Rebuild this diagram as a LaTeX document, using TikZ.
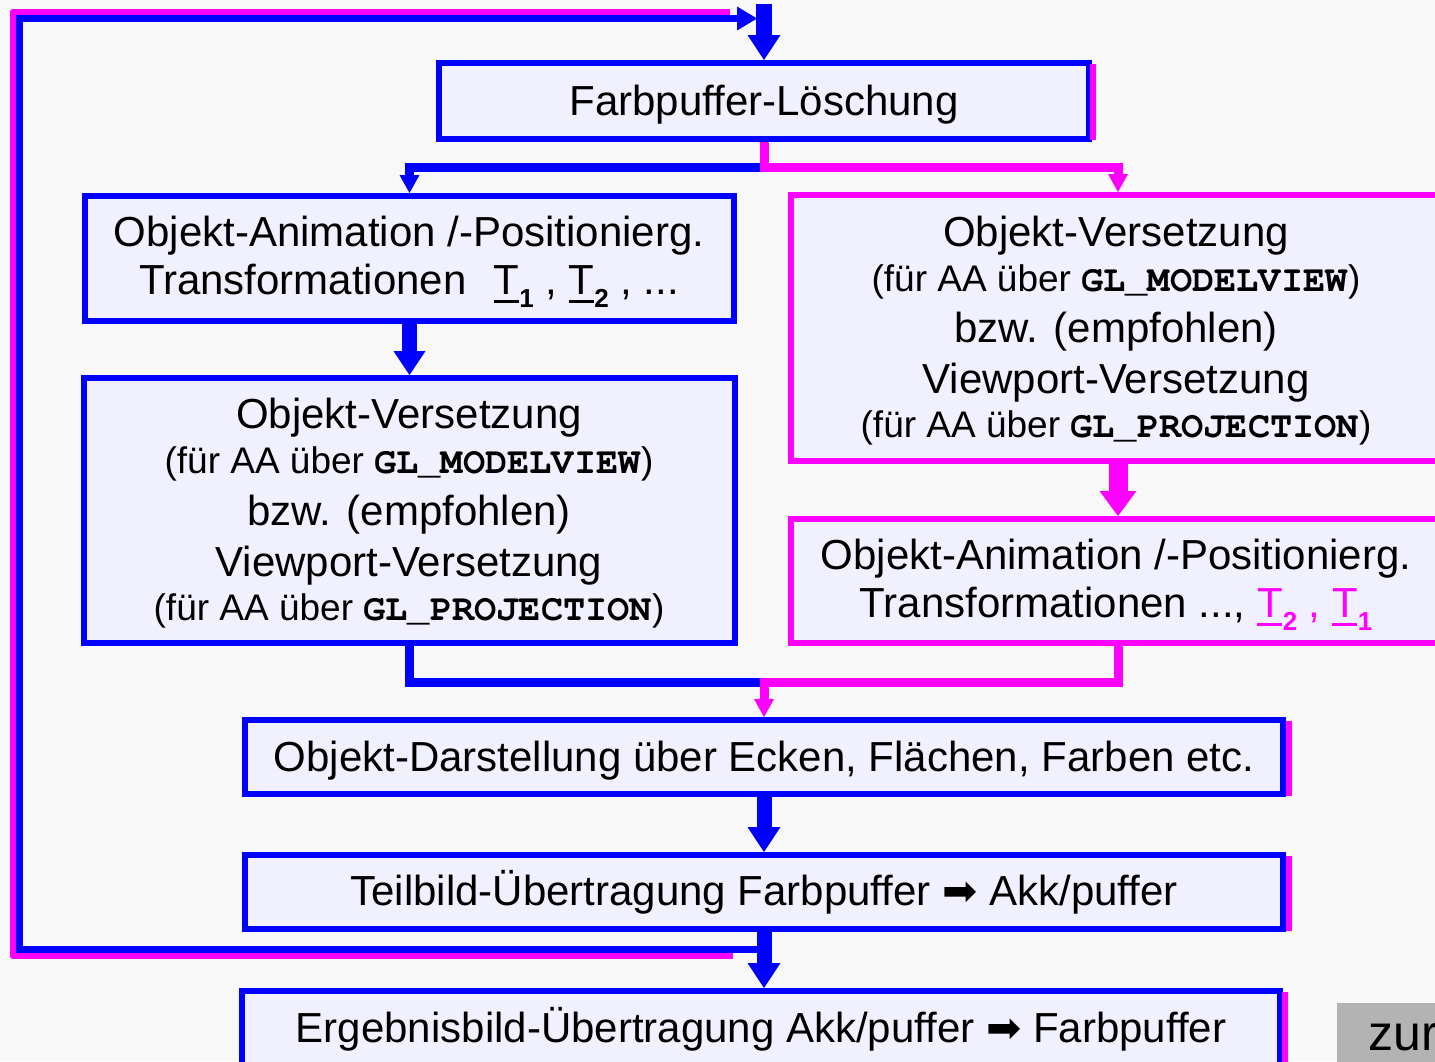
\documentclass[tikz,border=0pt]{standalone}
\usepackage{fontspec}
\setmainfont{Liberation Sans}
\setmonofont{TeX Gyre Cursor}
\newfontfamily\symfont{DejaVu Sans}
\usetikzlibrary{arrows.meta}
\definecolor{bl}{RGB}{0,0,255}
\definecolor{mg}{RGB}{255,0,255}
\definecolor{boxfill}{RGB}{240,240,255}
\definecolor{bgc}{RGB}{248,248,248}
\definecolor{btn}{RGB}{179,179,179}
\newcommand\Lg{\fontsize{42}{48}\selectfont}
\newcommand\Sm{\fontsize{37}{42}\selectfont}
\newcommand\GL[1]{\texttt{\bfseries #1}}
\newcommand\Tsub[1]{\makebox[0pt][l]{\rule[-9pt]{25pt}{3.5pt}}T\raisebox{-13pt}{\fontsize{26}{26}\selectfont\bfseries #1}}
\newcommand\Rarr{{\symfont ➡}}
\begin{document}
\begin{tikzpicture}[x=1pt,y=-1pt,
  box/.style={draw=bl, line width=6pt, fill=boxfill, inner sep=0pt},
  mbox/.style={draw=mg, line width=6pt, fill=boxfill, inner sep=0pt},
  big/.style={inner sep=0pt, anchor=base, font=\Lg},
  small/.style={inner sep=0pt, anchor=base, font=\Sm},
  stripe/.style={fill=mg},
  bigarr/.style={line width=15pt, -{Triangle[width=32pt,length=24pt,line width=0pt]}},
  smallarr/.style={line width=9pt, -{Triangle[width=20pt,length=18pt,line width=0pt]}},
  loopline/.style={line width=7pt}]
\useasboundingbox (0,0) rectangle (1435,1061);
\fill[bgc] (0,0) rectangle (1435,1061);
\clip (0,0) rectangle (1435,1061);

% boxes
\node[box, minimum width=650pt, minimum height=76pt] (fp) at (764,101) {};
\node[box, minimum width=649pt, minimum height=125pt] (la) at (409.5,258.5) {};
\node[box, minimum width=651pt, minimum height=265pt] (lv) at (409.5,510.5) {};
\node[mbox, minimum width=654pt, minimum height=266pt] (rv) at (1118,328) {};
\node[mbox, minimum width=654pt, minimum height=124pt] (ra) at (1118,581) {};
\node[box, minimum width=1038pt, minimum height=74pt] (od) at (764,757) {};
\node[box, minimum width=1038pt, minimum height=74pt] (tb) at (764,892) {};
\node[box, minimum width=1038pt, minimum height=130pt] (eb) at (761,1056) {};

% magenta shadow stripes
\fill[stripe] (1090,64) rectangle (1096,140);
\fill[stripe] (1286,721) rectangle (1292,796);
\fill[stripe] (1286,856) rectangle (1292,931);
\fill[stripe] (1282,992) rectangle (1288,1070);

% button
\fill[btn] (1337,1003) rectangle (1440,1070);
\node[inner sep=0pt, anchor=base west, font=\fontsize{50}{56}\selectfont] (zur) at (1368,1050) {zur};

% loop back
\coordinate (loopm) at (733,956);
\coordinate (loopmend) at (730,12);
\coordinate (loopb) at (764,949.5);
\coordinate (loopbend) at (757,18.5);
\coordinate (topin) at (764,4);
\draw[mg, line width=6pt, line join=round] (loopm) -- (12.5,956) -- (12.5,12) -- (loopmend);
\draw[bl, loopline, -{Triangle[width=24pt,length=20pt,line width=0pt]}] (loopb) -- (19.5,949.5) -- (19.5,18.5) -- (loopbend);

% main arrows
\draw[bl, bigarr, line width=16pt, -{Triangle[width=33pt,length=25pt,line width=0pt]}] (topin) -- (fp.north);
\draw[bl, bigarr] (la.south) -- (lv.north);
\draw[mg, bigarr, line width=19pt, -{Triangle[width=37pt,length=25pt,line width=0pt]}] (rv.south) -- (ra.north);
\draw[bl, bigarr, line width=15pt, -{Triangle[width=33pt,length=25pt,line width=0pt]}] (od.south) -- (tb.north);
\draw[bl, bigarr, line width=15pt, -{Triangle[width=33pt,length=25pt,line width=0pt]}] (tb.south) -- (tb.south |- eb.north);

% split
\coordinate (split) at (764,167.5);
\draw[bl, smallarr] (split) -| (la.north);
\draw[mg, smallarr] (fp.south) -- (split) -| (rv.north);

% merge
\coordinate (merge) at (764,682);
\draw[bl, line width=9pt] (lv.south) |- (merge);
\draw[mg, smallarr] (ra.south) |- (merge) -- (od.north);

% texts
\node[big] (fpt) at (764,115) {Farbpuffer-Löschung};

\node[big] (la1) at (409,246) {Objekt-Animation /-Positionierg.};
\node[big] (la2) at (409,294) {Transformationen\hspace{27pt}\Tsub{1} , \Tsub{2} , ...};

\node[big] (lv1) at (409,428) {Objekt-Versetzung};
\node[small] (lv2) at (409,473) {(für AA über \GL{GL\_MODELVIEW})};
\node[big] (lv3) at (409,525) {bzw. (empfohlen)};
\node[big] (lv4) at (409,576) {Viewport-Versetzung};
\node[small] (lv5) at (409,620) {(für AA über \GL{GL\_PROJECTION})};

\node[big] (rv1) at (1116,246) {Objekt-Versetzung};
\node[small] (rv2) at (1116,291) {(für AA über \GL{GL\_MODELVIEW})};
\node[big] (rv3) at (1116,342) {bzw. (empfohlen)};
\node[big] (rv4) at (1116,393) {Viewport-Versetzung};
\node[small] (rv5) at (1116,437) {(für AA über \GL{GL\_PROJECTION})};

\node[big] (ra1) at (1116,569) {Objekt-Animation /-Positionierg.};
\node[big] (ra2) at (1116,617) {Transformationen ..., \textcolor{mg}{\Tsub{2} , \Tsub{1}}};

\node[big] (odt) at (764,771) {Objekt-Darstellung über Ecken, Flächen, Farben etc.};
\node[big] (tbt) at (764,905) {Teilbild-Übertragung Farbpuffer \Rarr{} Akk/puffer};
\node[big] (ebt) at (761,1042) {Ergebnisbild-Übertragung Akk/puffer \Rarr{} Farbpuffer};
\end{tikzpicture}
\end{document}
